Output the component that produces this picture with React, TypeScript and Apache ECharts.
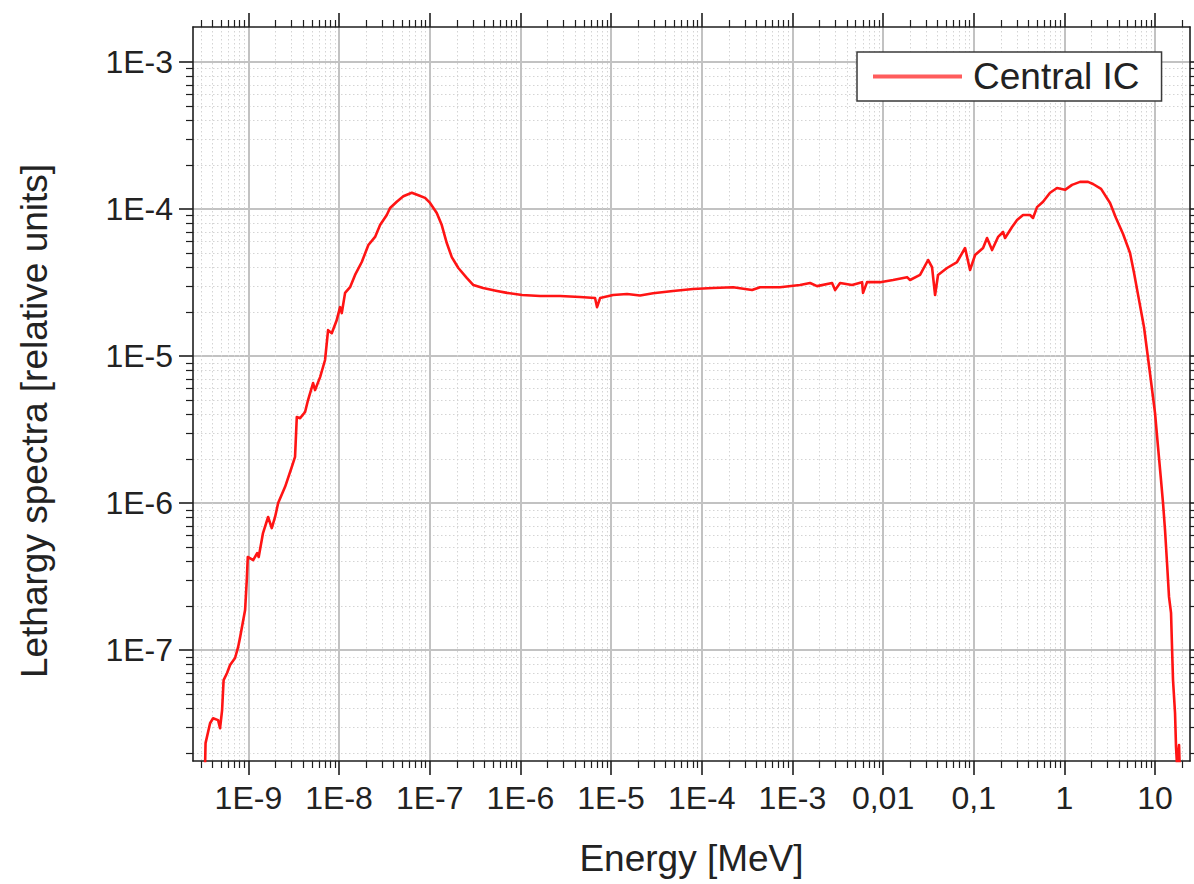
import React, { useEffect, useRef } from "react";
import * as echarts from "echarts";

// Neutron energy [MeV]
const ENERGY_MEV: number[] = [
  3.33e-10, 3.37e-10, 3.78e-10, 4.08e-10, 4.63e-10, 4.87e-10, 5.13e-10, 5.33e-10, 5.82e-10, 6.28e-10,
  7.13e-10, 7.7e-10, 8.1e-10, 9.2e-10, 9.6e-10, 9.85e-10, 1.13e-9, 1.25e-9, 1.3e-9, 1.45e-9,
  1.65e-9, 1.81e-9, 1.97e-9, 2.13e-9, 2.54e-9, 3.01e-9, 3.27e-9, 3.42e-9, 3.72e-9, 4.22e-9,
  4.55e-9, 5.17e-9, 5.44e-9, 6.18e-9, 7.01e-9, 7.57e-9, 8.31e-9, 9.44e-9, 1.027e-8, 1.072e-8,
  1.166e-8, 1.323e-8, 1.502e-8, 1.781e-8, 2.106e-8, 2.497e-8, 2.835e-8, 3.36e-8, 3.654e-8, 4.33e-8,
  5.12e-8, 6.34e-8, 7.5e-8, 8.89e-8, 1.009e-7, 1.196e-7, 1.358e-7, 1.542e-7, 1.751e-7, 2.07e-7,
  2.56e-7, 3.03e-7, 3.88e-7, 5.53e-7, 7.13e-7, 1.044e-6, 1.649e-6, 2.74e-6, 4.55e-6, 6.66e-6,
  7.01e-6, 7.57e-6, 1.053e-5, 1.502e-5, 2.09e-5, 2.91e-5, 4.83e-5, 8.03e-5, 1.334e-4, 2.22e-4,
  3.59e-4, 4.4e-4, 7.31e-4, 1.215e-3, 1.567e-3, 1.872e-3, 2.74e-3, 2.96e-3, 3.36e-3, 4.55e-3,
  5.87e-3, 6.02e-3, 6.66e-3, 9.27e-3, 1.29e-2, 1.84e-2, 1.986e-2, 2.56e-2, 3.14e-2, 3.47e-2,
  3.75e-2, 4.04e-2, 5.08e-2, 6.55e-2, 8.03e-2, 9.11e-2, 0.1035, 0.1268, 0.1403, 0.1594,
  0.1856, 0.2107, 0.2217, 0.2648, 0.3007, 0.35, 0.418, 0.451, 0.4995, 0.582,
  0.695, 0.83, 1.017, 1.215, 1.489, 1.824, 2.07, 2.54, 3.19, 3.71,
  4.44, 5.3, 5.87, 6.66, 7.56, 8.59, 10.0, 10.79, 11.64, 12.25,
  12.89, 13.56, 14.26, 15.01, 15.39, 15.79, 16.62, 17.04, 17.48, 18.39,
  18.8,
];

// Lethargy spectra [relative units]
const LETHARGY: number[] = [
  1.65e-8, 2.33e-8, 3.18e-8, 3.44e-8, 3.34e-8, 2.94e-8, 3.91e-8, 6.25e-8, 6.98e-8, 7.91e-8,
  8.83e-8, 1.047e-7, 1.22e-7, 1.87e-7, 2.99e-7, 4.3e-7, 4.09e-7, 4.57e-7, 4.3e-7, 6.25e-7,
  8.04e-7, 6.76e-7, 8.04e-7, 1.0e-6, 1.29e-6, 1.76e-6, 2.06e-6, 3.85e-6, 3.78e-6, 4.16e-6,
  5.02e-6, 6.55e-6, 5.87e-6, 7.19e-6, 9.4e-6, 1.5e-5, 1.43e-5, 1.76e-5, 2.15e-5, 1.96e-5,
  2.69e-5, 2.94e-5, 3.56e-5, 4.36e-5, 5.69e-5, 6.46e-5, 7.78e-5, 9.1e-5, 1.016e-4, 1.12e-4,
  1.22e-4, 1.29e-4, 1.24e-4, 1.19e-4, 1.1e-4, 9.4e-5, 7.78e-5, 5.87e-5, 4.71e-5, 3.97e-5,
  3.4e-5, 3.04e-5, 2.9e-5, 2.77e-5, 2.69e-5, 2.6e-5, 2.56e-5, 2.56e-5, 2.52e-5, 2.48e-5,
  2.15e-5, 2.48e-5, 2.6e-5, 2.64e-5, 2.58e-5, 2.67e-5, 2.77e-5, 2.86e-5, 2.9e-5, 2.94e-5,
  2.81e-5, 2.94e-5, 2.94e-5, 3.04e-5, 3.14e-5, 2.99e-5, 3.14e-5, 2.81e-5, 3.14e-5, 3.04e-5,
  3.18e-5, 2.69e-5, 3.18e-5, 3.18e-5, 3.29e-5, 3.44e-5, 3.29e-5, 3.56e-5, 4.5e-5, 4.03e-5,
  2.6e-5, 3.56e-5, 3.97e-5, 4.36e-5, 5.43e-5, 3.85e-5, 4.86e-5, 5.43e-5, 6.35e-5, 5.26e-5,
  6.46e-5, 6.98e-5, 6.35e-5, 7.55e-5, 8.41e-5, 9.1e-5, 9.1e-5, 8.69e-5, 1.03e-4, 1.12e-4,
  1.29e-4, 1.39e-4, 1.35e-4, 1.46e-4, 1.53e-4, 1.53e-4, 1.48e-4, 1.37e-4, 1.1e-4, 8.69e-5,
  6.76e-5, 5.02e-5, 3.67e-5, 2.4e-5, 1.57e-5, 8.55e-6, 4.09e-6, 2.4e-6, 1.43e-6, 1.0e-6,
  6.55e-7, 3.91e-7, 2.3e-7, 1.79e-7, 1.047e-7, 6.25e-8, 3.72e-8, 2.19e-8, 1.65e-8, 2.26e-8,
  1.45e-8,
];

const SERIES_NAME = "Central IC";

// Axis ticks
const X_TICK_VALUES: number[] = [1e-9, 1e-8, 1e-7, 1e-6, 1e-5, 1e-4, 1e-3, 0.01, 0.1, 1, 10];
const X_TICK_LABELS: string[] = ["1E-9", "1E-8", "1E-7", "1E-6", "1E-5", "1E-4", "1E-3", "0,01", "0,1", "1", "10"];
const Y_TICK_VALUES: number[] = [1e-7, 1e-6, 1e-5, 1e-4, 1e-3];
const Y_TICK_LABELS: string[] = ["1E-7", "1E-6", "1E-5", "1E-4", "1E-3"];

// Axis ranges
const X_RANGE: number[] = [2.45e-10, 24.3];
const Y_RANGE: number[] = [1.76e-8, 1.73e-3];

const X_TITLE = "Energy [MeV]";
const Y_TITLE = "Lethargy spectra [relative units]";

const FONT = "'Liberation Sans', Arial, Helvetica, sans-serif";

const lg = (v: number) => Math.log10(v);

function minorLogs(minLog: number, maxLog: number): number[] {
  const out: number[] = [];
  for (let d = Math.floor(minLog); d <= Math.ceil(maxLog); d++) {
    for (let k = 2; k <= 9; k++) {
      const v = d + Math.log10(k);
      if (v > minLog && v < maxLog) out.push(v);
    }
  }
  return out;
}

function labelFor(values: number[], labels: string[]) {
  const logs = values.map(lg);
  return (v: number) => {
    const i = logs.findIndex((t) => Math.abs(t - v) < 1e-6);
    return i >= 0 ? labels[i] : "";
  };
}

export default function App() {
  const ref = useRef<HTMLDivElement>(null);

  useEffect(() => {
    if (!ref.current) return;
    const chart = echarts.init(ref.current, undefined, { renderer: "svg" });

    const xMin = lg(X_RANGE[0]);
    const xMax = lg(X_RANGE[1]);
    const yMin = lg(Y_RANGE[0]);
    const yMax = lg(Y_RANGE[1]);
    const xMajor = X_TICK_VALUES.map(lg);
    const yMajor = Y_TICK_VALUES.map(lg);
    const xMinor = minorLogs(xMin, xMax);
    const yMinor = minorLogs(yMin, yMax);

    const axisColor = "#1e1e1e";
    const majorGrid = { show: true, lineStyle: { color: "#c2c2c2", width: 2 } };
    const minorGrid = { show: true, lineStyle: { color: "#d4d4d4", width: 1, type: [1.5, 2.5] as any } };

    const makeAxis = (
      position: string,
      min: number,
      max: number,
      values: number[],
      major: boolean,
      withLine: boolean,
      label: any,
      split: any
    ) => ({
      type: "value",
      position,
      min,
      max,
      axisLine: { show: withLine, onZero: false, lineStyle: { color: axisColor, width: 1.6 } },
      axisTick: {
        show: true,
        inside: false,
        customValues: values,
        length: major ? 14 : 7,
        lineStyle: { color: axisColor, width: major ? 1.6 : 1.2 },
      },
      axisLabel: label ? { ...label, customValues: values } : { show: false },
      splitLine: split || { show: false },
      minorTick: { show: false },
      minorSplitLine: { show: false },
    });

    const xLabel = {
      show: true,
      formatter: labelFor(X_TICK_VALUES, X_TICK_LABELS),
      fontSize: 32,
      fontFamily: FONT,
      color: "#222",
      margin: 21,
      hideOverlap: false,
    };
    const yLabel = {
      show: true,
      formatter: labelFor(Y_TICK_VALUES, Y_TICK_LABELS),
      fontSize: 32,
      fontFamily: FONT,
      color: "#222",
      margin: 20,
      hideOverlap: false,
    };

    const xAxes: any[] = [
      makeAxis("bottom", xMin, xMax, xMinor, false, false, null, minorGrid),
      makeAxis("bottom", xMin, xMax, xMajor, true, true, xLabel, majorGrid),
      makeAxis("top", xMin, xMax, xMinor, false, false, null, null),
      makeAxis("top", xMin, xMax, xMajor, true, true, null, null),
    ];
    xAxes[1].name = X_TITLE;
    xAxes[1].nameLocation = "middle";
    xAxes[1].nameGap = 79;
    xAxes[1].nameTextStyle = { fontSize: 37, fontFamily: FONT, color: "#222" };

    const yAxes: any[] = [
      makeAxis("left", yMin, yMax, yMinor, false, false, null, minorGrid),
      makeAxis("left", yMin, yMax, yMajor, true, true, yLabel, majorGrid),
      makeAxis("right", yMin, yMax, yMinor, false, false, null, null),
      makeAxis("right", yMin, yMax, yMajor, true, true, null, null),
    ];

    const data = ENERGY_MEV.map((e, i) => [lg(e), lg(LETHARGY[i])]);

    chart.setOption({
      animation: false,
      backgroundColor: "#ffffff",
      grid: { left: 193, top: 27, width: 997, height: 734, containLabel: false },
      xAxis: xAxes,
      yAxis: yAxes,
      legend: {
        left: 857,
        top: 52,
        orient: "horizontal",
        padding: [6, 22, 6, 16],
        backgroundColor: "#ffffff",
        borderColor: "#3a3a3a",
        borderWidth: 1.5,
        borderRadius: 0,
        icon: "rect",
        itemWidth: 89,
        itemHeight: 4,
        selectedMode: false,
        textStyle: { fontSize: 37, fontFamily: FONT, color: "#222", padding: [0, 0, 0, 6] },
        data: [{ name: SERIES_NAME, itemStyle: { color: "#ff5c5c" } }],
      },
      graphic: [
        {
          type: "text",
          x: 34,
          y: 421,
          rotation: Math.PI / 2,
          style: {
            text: Y_TITLE,
            font: `37px ${FONT}`,
            fill: "#222",
            align: "center",
            verticalAlign: "middle",
          },
        },
      ],
      series: [
        {
          name: SERIES_NAME,
          type: "line",
          xAxisIndex: 1,
          yAxisIndex: 1,
          data,
          showSymbol: false,
          symbol: "none",
          clip: true,
          lineStyle: { color: "#ff1414", width: 2.6, join: "round" },
          itemStyle: { color: "#ff1414" },
          z: 5,
        },
      ],
    });

    return () => chart.dispose();
  }, []);

  return (
    <div
      ref={ref}
      style={{ position: "fixed", left: 0, top: 0, width: 1194, height: 884, background: "#fff" }}
    />
  );
}
